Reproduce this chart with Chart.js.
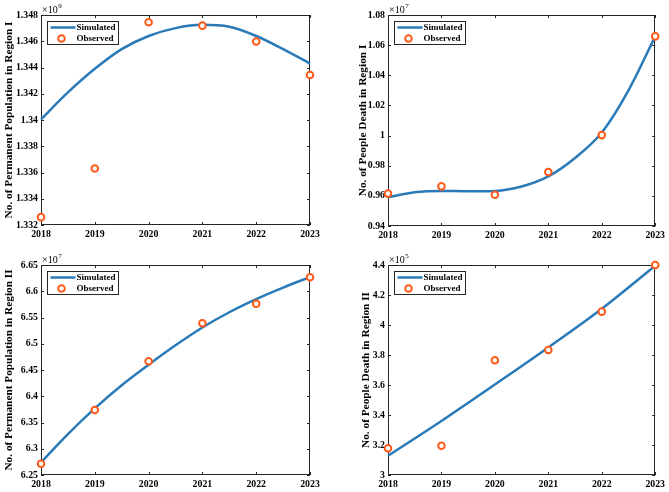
<!DOCTYPE html>
<html>
<head>
<meta charset="utf-8">
<script src="https://cdn.jsdelivr.net/npm/chart.js@4/dist/chart.umd.min.js"></script>
<style>
  body { margin: 0; background: #fff; }
  canvas { position: absolute; }
</style>
</head>
<body>
<canvas id="c1" width="334" height="246" style="left:0;top:0"></canvas>
<canvas id="c2" width="335" height="246" style="left:334px;top:0"></canvas>
<canvas id="c3" width="334" height="246" style="left:0;top:246px"></canvas>
<canvas id="c4" width="335" height="246" style="left:334px;top:246px"></canvas>
<script>
const years = [2018, 2019, 2020, 2021, 2022, 2023];
const fitYears = [2018, 2018.5, 2019, 2019.5, 2020, 2020.5, 2021, 2021.5, 2022, 2022.5, 2023];

// Region I permanent population (x10^9)
const popIObs = [1.3326, 1.3363, 1.34745, 1.34719, 1.34598, 1.34343];
const popISim = [1.34005, 1.3421, 1.3439, 1.3454, 1.3464, 1.3470, 1.34725, 1.3471, 1.3464, 1.3454, 1.3443];
const popITicks = [1.332, 1.334, 1.336, 1.338, 1.34, 1.342, 1.344, 1.346, 1.348];

// Region I deaths (x10^7)
const deathIObs = [0.9615, 0.9663, 0.9607, 0.9758, 1.0003, 1.0658];
const deathISim = [0.9591, 0.9624, 0.9633, 0.9631, 0.9633, 0.9662, 0.9729, 0.9851, 1.0020, 1.0300, 1.0658];
const deathITicks = [0.94, 0.96, 0.98, 1, 1.02, 1.04, 1.06, 1.08];

// Region II permanent population (x10^7)
const popIIObs = [6.2715, 6.3738, 6.4666, 6.539, 6.5763, 6.6266];
const popIISim = [6.274, 6.328, 6.377, 6.421, 6.460, 6.497, 6.531, 6.560, 6.585, 6.607, 6.627];
const popIITicks = [6.25, 6.3, 6.35, 6.4, 6.45, 6.5, 6.55, 6.6, 6.65];

// Region II deaths (x10^5)
const deathIIObs = [3.178, 3.195, 3.765, 3.833, 4.089, 4.40];
const deathIISim = [3.128, 3.360, 3.603, 3.850, 4.108, 4.395];
const deathIITicks = [3, 3.2, 3.4, 3.6, 3.8, 4, 4.2, 4.4];

const seriesNames = ['Simulated', 'Observed'];

const blue = '#2a7ab8';
const orange = '#ff5a1a';
const axisColor = '#262626';
const serif = "'Liberation Serif', 'Times New Roman', serif";

Chart.defaults.font.family = serif;
Chart.defaults.color = '#000';

// box, inward ticks, legend and the x10^n label, matlab style
const matlabAxes = {
  id: 'matlabAxes',
  beforeDatasetsDraw(chart) {
    const { ctx, chartArea: a, scales: { x, y } } = chart;
    ctx.save();
    ctx.strokeStyle = axisColor;
    ctx.lineWidth = 1;
    ctx.strokeRect(Math.round(a.left) + 0.5, Math.round(a.top) + 0.5,
      Math.round(a.width) - 1, Math.round(a.height) - 1);
    ctx.beginPath();
    x.ticks.forEach(t => {
      const px = Math.round(x.getPixelForValue(t.value)) + 0.5;
      ctx.moveTo(px, a.bottom); ctx.lineTo(px, a.bottom - 3);
      ctx.moveTo(px, a.top); ctx.lineTo(px, a.top + 3);
    });
    y.ticks.forEach(t => {
      const py = Math.round(y.getPixelForValue(t.value)) + 0.5;
      ctx.moveTo(a.left, py); ctx.lineTo(a.left + 3, py);
      ctx.moveTo(a.right, py); ctx.lineTo(a.right - 3, py);
    });
    ctx.stroke();
    ctx.restore();
  },
  afterDraw(chart, args, opts) {
    const { ctx, chartArea: a } = chart;
    const sim = chart.data.datasets[0];
    const obs = chart.data.datasets[1];
    ctx.save();

    // exponent label
    ctx.fillStyle = '#000';
    ctx.textBaseline = 'alphabetic';
    ctx.font = '10px ' + serif;
    ctx.fillText('\u00d710', a.left + 1, a.top - 2.5);
    const w = ctx.measureText('\u00d710').width;
    ctx.font = '7px ' + serif;
    ctx.fillText(opts.exponent, a.left + 1.5 + w, a.top - 7);

    // legend
    const bx = Math.round(a.left + 6) + 0.5, by = Math.round(a.top + 6) + 0.5;
    const bw = 71, bh = 23;
    ctx.fillStyle = '#fff';
    ctx.fillRect(bx, by, bw, bh);
    ctx.strokeStyle = axisColor;
    ctx.lineWidth = 1;
    ctx.strokeRect(bx, by, bw, bh);
    const y1 = by + 6, y2 = by + 17;
    ctx.strokeStyle = sim.borderColor;
    ctx.lineWidth = sim.borderWidth;
    ctx.beginPath();
    ctx.moveTo(bx + 3, y1); ctx.lineTo(bx + 28, y1);
    ctx.stroke();
    ctx.strokeStyle = obs.pointBorderColor;
    ctx.lineWidth = obs.pointBorderWidth;
    ctx.beginPath();
    ctx.arc(bx + 14, y2, obs.pointRadius, 0, Math.PI * 2);
    ctx.stroke();
    ctx.fillStyle = '#000';
    ctx.font = 'bold 9px ' + serif;
    ctx.textBaseline = 'middle';
    ctx.fillText(sim.label, bx + 29, y1);
    ctx.fillText(obs.label, bx + 29, y2);
    ctx.restore();
  }
};

function numLabel(v) {
  return String(Number(v.toFixed(4)));
}

function makePanel(id, simX, sim, obs, ticks, title, exponent, pad, yWidth, xHeight) {
  const ctx = document.getElementById(id).getContext('2d');
  new Chart(ctx, {
    type: 'line',
    data: {
      datasets: [
        {
          label: seriesNames[0],
          data: simX.map((x, i) => ({ x: x, y: sim[i] })),
          borderColor: blue,
          borderWidth: 2.5,
          pointRadius: 0,
          cubicInterpolationMode: 'monotone',
          fill: false,
          clip: false,
          order: 1
        },
        {
          label: seriesNames[1],
          data: years.map((x, i) => ({ x: x, y: obs[i] })),
          showLine: false,
          pointRadius: 3.3,
          pointBorderWidth: 2,
          pointBorderColor: orange,
          pointBackgroundColor: '#fff',
          clip: false,
          order: 0
        }
      ]
    },
    options: {
      responsive: false,
      animation: false,
      layout: { padding: pad },
      plugins: {
        legend: { display: false },
        tooltip: { enabled: false },
        matlabAxes: { exponent: exponent }
      },
      scales: {
        x: {
          type: 'linear',
          min: years[0],
          max: years[years.length - 1],
          grid: { display: false, drawTicks: false, tickLength: 0 },
          border: { display: false },
          afterBuildTicks: s => { s.ticks = years.map(v => ({ value: v })); },
          afterFit: s => { s.height = xHeight; },
          ticks: {
            autoSkip: false,
            maxRotation: 0,
            padding: 4,
            font: { size: 9.8, weight: 'bold' },
            callback: v => String(v)
          }
        },
        y: {
          type: 'linear',
          min: ticks[0],
          max: ticks[ticks.length - 1],
          grid: { display: false, drawTicks: false, tickLength: 0 },
          border: { display: false },
          afterBuildTicks: s => { s.ticks = ticks.map(v => ({ value: v })); },
          afterFit: s => { s.width = yWidth; },
          ticks: {
            autoSkip: false,
            padding: 3,
            font: { size: 9.8, weight: 'bold' },
            callback: v => numLabel(v)
          },
          title: {
            display: true,
            text: title,
            padding: { top: 2, bottom: 0 },
            font: { size: 11.3, weight: 'bold' }
          }
        }
      }
    },
    plugins: [matlabAxes]
  });
}

makePanel('c1', fitYears, popISim, popIObs, popITicks,
  'No. of Permanent Population in Region I', '9',
  { left: 0, right: 24, top: 15, bottom: 0 }, 41, 21);
makePanel('c2', fitYears, deathISim, deathIObs, deathITicks,
  'No. of People Death in Region I', '7',
  { left: 20, right: 12, top: 15, bottom: 0 }, 34, 20);
makePanel('c3', fitYears, popIISim, popIIObs, popIITicks,
  'No. of Permanent Population in Region II', '7',
  { left: 0, right: 24, top: 19, bottom: 0 }, 41, 17);
makePanel('c4', years, deathIISim, deathIIObs, deathIITicks,
  'No. of People Death in Region II', '5',
  { left: 23, right: 12, top: 19, bottom: 0 }, 31, 17);
</script>
</body>
</html>
